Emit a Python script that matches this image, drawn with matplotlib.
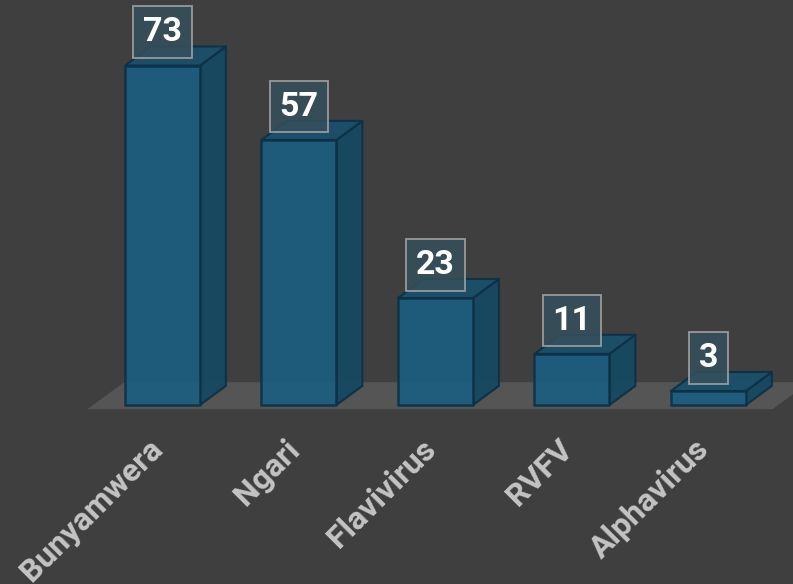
import matplotlib.pyplot as plt
from matplotlib.patches import Polygon

# virus groups and number of detections
groups = ["Bunyamwera", "Ngari", "Flavivirus", "RVFV", "Alphavirus"]
counts = [73, 57, 23, 11, 3]

bg = "#3f3f3f"
front_c = "#1c5e80"
side_c = "#164862"
top_c = "#1a4f6b"
edge_c = "#0d3146"

fig = plt.figure(figsize=(7.93, 5.84), dpi=100, facecolor=bg)
ax = fig.add_axes([0, 0, 1, 1])
ax.set_facecolor(bg)
ax.set_xlim(-1.19, 4.62)
ax.set_ylim(-38.5, 87.1)
ax.axis("off")

half_w = 0.275   # half bar width in category units
dx, dy = 0.19, 4.1  # depth offset of the back faces

# floor plane under the bars
n = len(groups)
fl, fr = -0.55, n - 1 + 0.47
f0, fdx, fdy = -0.9, 0.27, 5.8
ax.add_patch(Polygon([(fl, f0), (fr, f0), (fr + fdx, f0 + fdy), (fl + fdx, f0 + fdy)],
                     closed=True, facecolor="#555555", edgecolor="none", zorder=1))

for i, (name, v) in enumerate(zip(groups, counts)):
    x0, x1 = i - half_w, i + half_w
    # hidden back edges, faintly visible through the faces
    ax.plot([x0 + dx, x0 + dx], [dy, v + dy], color=edge_c, lw=0.8, alpha=0.35, zorder=2)
    ax.plot([x0, x0 + dx, x1 + dx], [0, dy, dy], color=edge_c, lw=0.8, alpha=0.35, zorder=2)
    front = [(x0, 0), (x1, 0), (x1, v), (x0, v)]
    side = [(x1, 0), (x1 + dx, dy), (x1 + dx, v + dy), (x1, v)]
    top = [(x0, v), (x1, v), (x1 + dx, v + dy), (x0 + dx, v + dy)]
    ax.add_patch(Polygon(side, closed=True, facecolor=side_c, edgecolor=edge_c,
                         lw=1.5, alpha=0.95, zorder=3, joinstyle="round"))
    ax.add_patch(Polygon(top, closed=True, facecolor=top_c, edgecolor=edge_c,
                         lw=1.5, alpha=0.95, zorder=3, joinstyle="round"))
    ax.add_patch(Polygon(front, closed=True, facecolor=front_c, edgecolor=edge_c,
                         lw=1.8, alpha=0.92, zorder=4, joinstyle="round"))

    # value label in a translucent box
    ax.annotate(str(v), xy=(i, v), xytext=(0, 24), textcoords="offset points",
                ha="center", va="center", fontsize=24.5, fontweight="bold",
                family="Roboto", color="white", zorder=6,
                bbox=dict(boxstyle="square,pad=0.29", facecolor="#35505c",
                          edgecolor="#a8a8a8", lw=1.3, alpha=0.85))

    # category label under the floor
    ax.text(i - 0.11, -6.2, name, rotation=45, rotation_mode="anchor",
            ha="right", va="top", fontsize=23, fontweight="bold",
            family="Roboto", color="#c4c4c4", zorder=5)

fig.savefig("out.png", dpi=100, facecolor=bg)
